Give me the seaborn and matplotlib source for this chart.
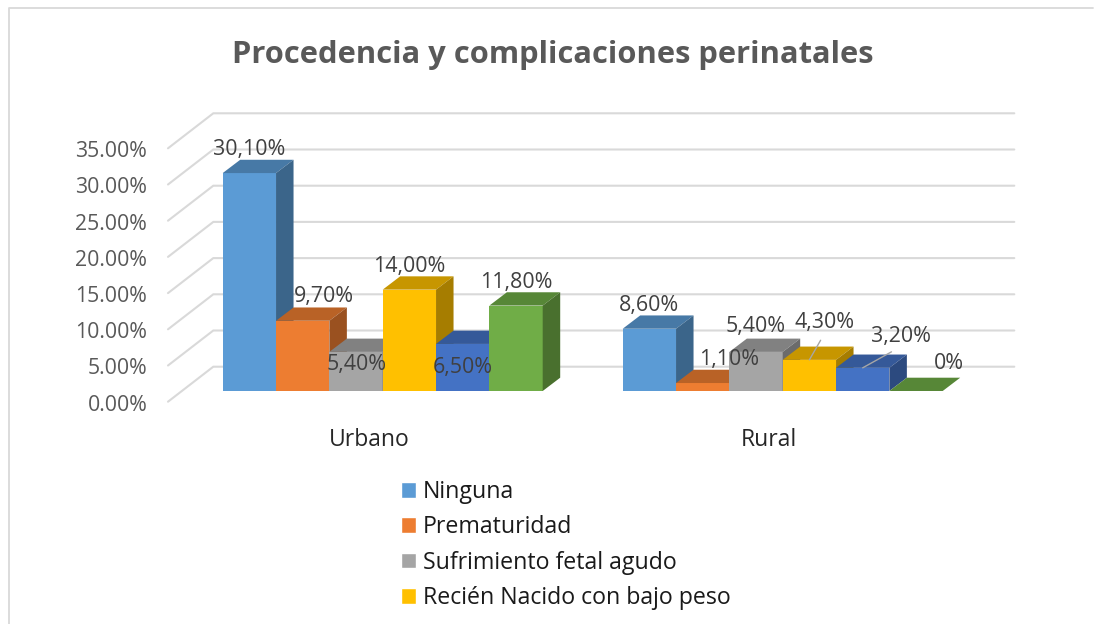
import matplotlib
matplotlib.use("Agg")
import matplotlib.pyplot as plt
import matplotlib.transforms as mtrans
from matplotlib.colors import to_rgb
from matplotlib.lines import Line2D
from matplotlib.patches import Polygon
import pandas as pd
import seaborn as sns

categories = ["Urbano", "Rural"]
series = ["Ninguna", "Prematuridad", "Sufrimiento fetal agudo",
          "Recién Nacido con bajo peso", "Asfixia", "Otras"]
urbano = [30.1, 9.7, 5.4, 14.0, 6.5, 11.8]
rural = [8.6, 1.1, 5.4, 4.3, 3.2, 0.0]
urbano_labels = ["30,10%", "9,70%", "5,40%", "14,00%", "6,50%", "11,80%"]
rural_labels = ["8,60%", "1,10%", "5,40%", "4,30%", "3,20%", "0%"]
colors = ["#5B9BD5", "#ED7D31", "#A5A5A5", "#FFC000", "#4472C4", "#70AD47"]
ytick_values = [0, 5, 10, 15, 20, 25, 30, 35]
ytick_labels = ["0.00%", "5.00%", "10.00%", "15.00%", "20.00%", "25.00%", "30.00%", "35.00%"]
title = "Procedencia y complicaciones perinatales"

W, H = 1094, 624
FONT = "Open Sans"
sns.set_theme(style="white")
plt.rcParams["font.family"] = [FONT, "DejaVu Sans"]

PX_X = 400.0   # pixels per category
PX_Y = 7.24    # pixels per percent
AX_L, AX_R, AX_T, AX_B = 168.0, 1014.3, 113.3, 401.7
BASE_Y, CAT0_X = 391.0, 382.7

fig = plt.figure(figsize=(W / 100, H / 100), dpi=100, facecolor="white")
ax = fig.add_axes([AX_L / W, 1 - AX_B / H, (AX_R - AX_L) / W, (AX_B - AX_T) / H])

df = pd.DataFrame({
    "proc": [c for c in categories for _ in series],
    "comp": series * 2,
    "val": urbano + rural,
})
sns.barplot(data=df, x="proc", y="val", hue="comp", order=categories, hue_order=series,
            palette=colors, saturation=1, width=0.8, gap=0, ax=ax, errorbar=None)

x0, x1 = (AX_L - CAT0_X) / PX_X, (AX_R - CAT0_X) / PX_X
y0, y1 = (BASE_Y - AX_B) / PX_Y, (BASE_Y - AX_T) / PX_Y
ax.set_xlim(x0, x1)
ax.set_ylim(y0, y1)
ax.set_xlabel("")
ax.set_ylabel("")
sns.despine(ax=ax, left=True, bottom=True)

# walls of the 3-D box
GRID = "#D9D9D9"
wall_dx, wall_dy = 45.3 / PX_X, 35.0 / PX_Y
for v in ytick_values:
    ax.plot([x0, x0 + wall_dx, x1], [v + y0, v + y0 + wall_dy, v + y0 + wall_dy],
            color=GRID, lw=1.5, zorder=0.5, clip_on=False, solid_joinstyle="miter")

# 3-D faces of the bars
bar_dx, bar_dy = 17.5 / PX_X, 13.3 / PX_Y
TOP, SIDE = 0.78, 0.65
for i, (cont, col) in enumerate(zip(ax.containers, colors)):
    rgb = to_rgb(col)
    for bar in cont:
        z = 2 + i
        bar.set_zorder(z)
        bar.set_linewidth(0)
        xa, xb = bar.get_x(), bar.get_x() + bar.get_width()
        h = bar.get_height()
        ax.add_patch(Polygon([(xa, h), (xb, h), (xb + bar_dx, h + bar_dy), (xa + bar_dx, h + bar_dy)],
                             closed=True, fc=[c * TOP for c in rgb], ec="none", zorder=z))
        if h > 0:
            ax.add_patch(Polygon([(xb, 0), (xb + bar_dx, bar_dy), (xb + bar_dx, h + bar_dy), (xb, h)],
                                 closed=True, fc=[c * SIDE for c in rgb], ec="none", zorder=z))

# data labels
label_offsets = [[(0, 24), (21.3, 24), (0.5, -13), (0, 23.5), (0.3, -23.8), (0, 23.5)],
                 [(0, 23.7), (26, 24), (0, 25), (15.2, 37), (38.3, 31.8), (33, 27.7)]]
leaders = {(1, 3), (1, 4)}
for s, cont in enumerate(ax.containers):
    for c, bar in enumerate(cont):
        text = (urbano_labels, rural_labels)[c][s]
        value = bar.get_height()
        props = None
        if (c, s) in leaders:
            props = dict(arrowstyle="-", color="#A6A6A6", lw=1, shrinkA=3, shrinkB=0, relpos=(0.5, 0))
        ax.annotate(text, xy=(bar.get_x() + bar.get_width() / 2, value),
                    xytext=label_offsets[c][s], textcoords="offset pixels",
                    ha="center", va="center", fontsize=15.4, color="#404040",
                    zorder=20, arrowprops=props)

# axis tick labels
ax.set_xticks(range(len(categories)), categories)
ax.set_yticks(ytick_values, ytick_labels)
ax.tick_params(axis="x", length=0, pad=18.6, labelsize=16.5, labelcolor="#262626")
ax.tick_params(axis="y", length=0, pad=15, labelsize=15.3, labelcolor="#595959")
for lab in ax.get_xticklabels():
    lab.set_transform(lab.get_transform() + mtrans.ScaledTranslation(-13.5 / 100, 0, fig.dpi_scale_trans))
for lab in ax.get_yticklabels():
    lab.set_transform(lab.get_transform() + mtrans.ScaledTranslation(0, -11.7 / 100, fig.dpi_scale_trans))

# legend: the original picture is cropped after the fourth entry
handles, labels = ax.get_legend_handles_labels()
ax.legend(handles[:4], labels[:4], loc="upper left", bbox_to_anchor=(401 / W, 1 - 480 / H),
          bbox_transform=fig.transFigure, frameon=False, fontsize=16.7, labelcolor="#1A1A1A",
          handlelength=0.65, handleheight=0.65, handletextpad=0.3, labelspacing=0.49,
          borderpad=0, borderaxespad=0)

fig.text(552.5 / W, 1 - 55.5 / H, title, ha="center", va="center", fontsize=22.2,
         fontweight="bold", color="#595959")

# chart frame, left and top edges only are inside the crop
fig.add_artist(Line2D([9.3 / W, 9.3 / W, 1093 / W], [0, 1 - 7.7 / H, 1 - 7.7 / H],
                      transform=fig.transFigure, color="#D9D9D9", lw=1.3))

fig.savefig("out.png", dpi=100)
